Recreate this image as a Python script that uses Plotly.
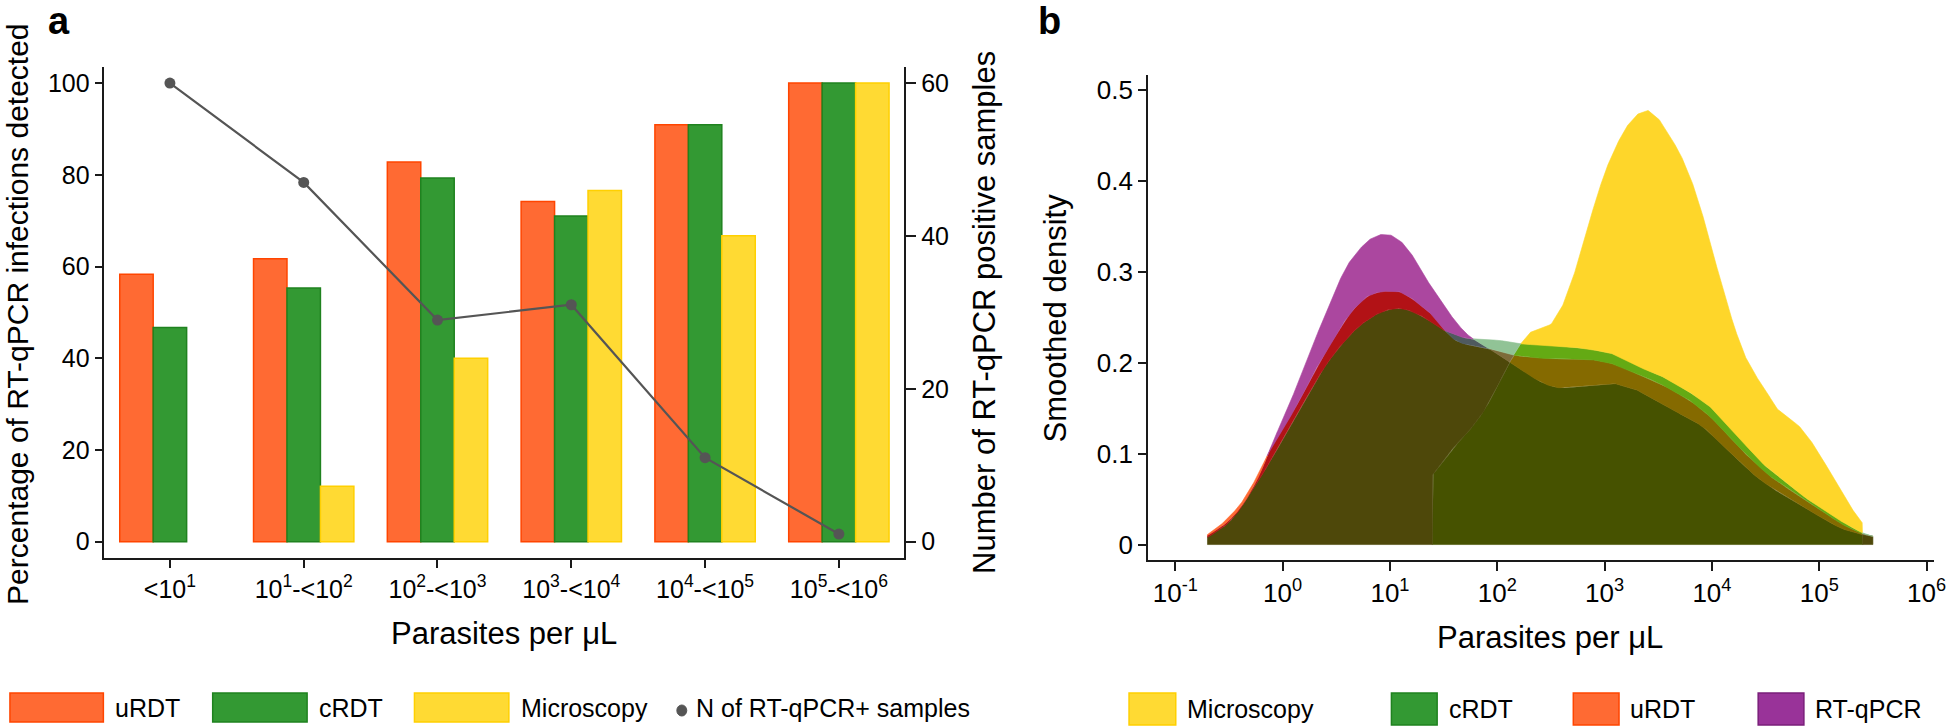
import itertools
import numpy as np
import plotly.graph_objects as go

W, H = 1960, 727

# ---------------- Panel a data ----------------
categories = ["<10^1", "10^1-<10^2", "10^2-<10^3", "10^3-<10^4", "10^4-<10^5", "10^5-<10^6"]
tick_labels = ["&lt;10<sup>1</sup>", "10<sup>1</sup>-&lt;10<sup>2</sup>", "10<sup>2</sup>-&lt;10<sup>3</sup>",
               "10<sup>3</sup>-&lt;10<sup>4</sup>", "10<sup>4</sup>-&lt;10<sup>5</sup>", "10<sup>5</sup>-&lt;10<sup>6</sup>"]
urdt_pct = [58.3, 61.7, 82.8, 74.2, 90.9, 100]
crdt_pct = [46.7, 55.3, 79.3, 71.0, 90.9, 100]
micro_pct = [0, 12.1, 40.0, 76.6, 66.7, 100]
n_samples = [60, 47, 29, 31, 11, 1]

# ---------------- Panel b data (log10 parasites/uL grid) ----------------
density_log_x = [-0.7, -0.6, -0.5, -0.4, -0.3, -0.2, -0.1, 0.0, 0.1, 0.2,
                 0.3, 0.4, 0.5, 0.6, 0.7, 0.8, 0.9, 1.0, 1.1, 1.2,
                 1.3, 1.4, 1.5, 1.6, 1.7, 1.8, 1.9, 2.0, 2.1, 2.2,
                 2.3, 2.4, 2.5, 2.6, 2.7, 2.8, 2.9, 3.0, 3.1, 3.2,
                 3.3, 3.4, 3.5, 3.6, 3.7, 3.8, 3.9, 4.0, 4.1, 4.2,
                 4.3, 4.4, 4.5, 4.6, 4.7, 4.8, 4.9, 5.0, 5.1, 5.2,
                 5.3, 5.4, 5.5]
rtqpcr_density = [0.010, 0.017, 0.026, 0.039, 0.057, 0.080, 0.111, 0.137, 0.165, 0.196,
                  0.225, 0.254, 0.283, 0.307, 0.323, 0.335, 0.341, 0.341, 0.334, 0.320,
                  0.299, 0.281, 0.263, 0.247, 0.233, 0.224, 0.217, 0.210, 0.202, 0.194,
                  0.186, 0.179, 0.174, 0.172, 0.173, 0.174, 0.175, 0.176, 0.177, 0.173,
                  0.170, 0.164, 0.157, 0.150, 0.144, 0.138, 0.131, 0.121, 0.109, 0.097,
                  0.087, 0.076, 0.067, 0.059, 0.052, 0.045, 0.038, 0.031, 0.024, 0.018,
                  0.014, 0.011, 0.009]
urdt_density = [0.011, 0.019, 0.030, 0.043, 0.061, 0.084, 0.108, 0.127, 0.146, 0.168,
                0.191, 0.212, 0.231, 0.250, 0.264, 0.274, 0.278, 0.279, 0.278, 0.271,
                0.262, 0.252, 0.237, 0.225, 0.220, 0.218, 0.216, 0.213, 0.210, 0.207,
                0.206, 0.205, 0.204, 0.204, 0.204, 0.204, 0.203, 0.201, 0.198, 0.193,
                0.188, 0.183, 0.178, 0.172, 0.165, 0.158, 0.149, 0.139, 0.126, 0.114,
                0.101, 0.090, 0.079, 0.070, 0.062, 0.054, 0.046, 0.039, 0.031, 0.023,
                0.017, 0.012, 0.009]
crdt_density = [0.008, 0.015, 0.024, 0.038, 0.056, 0.075, 0.094, 0.115, 0.136, 0.157,
                0.178, 0.197, 0.213, 0.227, 0.239, 0.248, 0.255, 0.259, 0.260, 0.257,
                0.251, 0.244, 0.236, 0.231, 0.227, 0.226, 0.225, 0.225, 0.223, 0.221,
                0.220, 0.220, 0.219, 0.218, 0.217, 0.216, 0.214, 0.212, 0.209, 0.203,
                0.197, 0.191, 0.187, 0.181, 0.174, 0.167, 0.159, 0.150, 0.137, 0.124,
                0.111, 0.098, 0.086, 0.077, 0.068, 0.058, 0.049, 0.042, 0.034, 0.026,
                0.019, 0.013, 0.009]
micro_density = [0, 0, 0, 0, 0, 0, 0, 0, 0, 0,
                 0, 0, 0, 0, 0, 0, 0, 0, 0, 0,
                 0, 0.077, 0.092, 0.108, 0.120, 0.134, 0.151, 0.174, 0.197, 0.218,
                 0.233, 0.238, 0.242, 0.260, 0.291, 0.330, 0.372, 0.409, 0.437, 0.459,
                 0.473, 0.478, 0.469, 0.451, 0.431, 0.404, 0.369, 0.323, 0.284, 0.242,
                 0.209, 0.187, 0.170, 0.150, 0.140, 0.132, 0.118, 0.100, 0.080, 0.059,
                 0.040, 0.024, 0]

# ---------------- styles ----------------
FONT = "Liberation Sans, Arial, Helvetica, sans-serif"
C_URDT, L_URDT = "#FF6A33", "#FF4500"
C_CRDT, L_CRDT = "#339933", "#1F821F"
C_MICRO, L_MICRO = "#FFDA33", "#FFD000"
C_RT, L_RT = "#993399", "#7A1F7A"
AX = "#1a1a1a"

# overlap colours of panel b keyed by the set of series covering a point
overlap_colors = {
    "R": "#AB479F", "U": "#FF6A33", "C": "#91C396", "M": "#FED62A",
    "RU": "#B21216", "CR": "#4F5A5F", "CU": "#7D6B3A", "CRU": "#4E480A",
    "CM": "#64AA14", "MU": "#C8640A", "MR": "#9A4A40",
    "CMU": "#856A00", "CMR": "#4A6A20", "MRU": "#7A3A05", "CMRU": "#465200",
}

fig = go.Figure()

# ---------------- Panel a ----------------
fig.add_trace(go.Bar(x=categories, y=urdt_pct, name="uRDT", marker=dict(color=C_URDT, line=dict(color=L_URDT, width=1.5)),
                     xaxis="x", yaxis="y"))
fig.add_trace(go.Bar(x=categories, y=crdt_pct, name="cRDT", marker=dict(color=C_CRDT, line=dict(color=L_CRDT, width=1.5)),
                     xaxis="x", yaxis="y"))
fig.add_trace(go.Bar(x=categories, y=micro_pct, name="Microscopy",
                     marker=dict(color=C_MICRO, line=dict(color=L_MICRO, width=[0 if v == 0 else 1.5 for v in micro_pct])),
                     xaxis="x", yaxis="y"))
fig.add_trace(go.Scatter(x=categories, y=n_samples, name="N of RT-qPCR+ samples", mode="lines+markers",
                         line=dict(color="#555555", width=2.2), marker=dict(color="#555555", size=11),
                         xaxis="x", yaxis="y2"))

# ---------------- Panel b : density areas (regions by overlap set) ----------------
# curves are straight segments between the read points; segments are subdivided so that
# the overlap regions tile without gaps. A series is drawn only between its first and
# last non-zero point (vertical edges at its ends).
L0 = np.array(density_log_x, float)
Lx = np.linspace(L0[0], L0[-1], (len(L0) - 1) * 20 + 1)

def resample(series):
    s = np.array(series, float)
    nz = np.nonzero(s)[0]
    a, b = L0[nz[0]], L0[nz[-1]]
    out = np.interp(Lx, L0[nz[0]:nz[-1] + 1], s[nz[0]:nz[-1] + 1])
    out[(Lx < a - 1e-9) | (Lx > b + 1e-9)] = 0.0
    return out

vals = {"M": resample(micro_density), "C": resample(crdt_density),
        "U": resample(urdt_density), "R": resample(rtqpcr_density)}
names = ["M", "C", "U", "R"]
n = len(Lx)
eps = 1e-9
for r in range(4, 0, -1):
    for S in itertools.combinations(names, r):
        up = np.min([vals[k] for k in S], axis=0)
        others = [vals[k] for k in names if k not in S]
        lo = np.max(others, axis=0) if others else np.zeros(n)
        lo = np.maximum(lo, 0)
        h = up - lo
        xs, ys = [], []
        i = 0
        while i < n:
            if h[i] <= eps:
                i += 1
                continue
            j = i
            while j + 1 < n and h[j + 1] > eps:
                j += 1
            top = []
            if i > 0:
                t = h[i] / (h[i] - h[i - 1])
                top.append((Lx[i] - t * (Lx[i] - Lx[i - 1]), lo[i] + t * (lo[i - 1] - lo[i])))
            top += [(Lx[k], up[k]) for k in range(i, j + 1)]
            if j < n - 1:
                t = h[j] / (h[j] - h[j + 1])
                top.append((Lx[j] + t * (Lx[j + 1] - Lx[j]), lo[j] + t * (lo[j + 1] - lo[j])))
            bot = [(Lx[k], lo[k]) for k in range(j, i - 1, -1)]
            poly = top + bot
            poly.append(poly[0])
            xs += [10 ** p[0] for p in poly] + [None]
            ys += [p[1] for p in poly] + [None]
            i = j + 1
        if not xs:
            continue
        key = "".join(sorted(S))
        col = overlap_colors[key]
        fig.add_trace(go.Scatter(x=xs, y=ys, mode="lines", fill="toself", fillcolor=col,
                                 line=dict(color=col, width=0.6), hoverinfo="skip",
                                 xaxis="x2", yaxis="y3", showlegend=False))

# ---------------- Layout ----------------
def px_x(p):
    return p / W

def px_y(p):
    return 1 - p / H

axis_common = dict(showline=True, linecolor=AX, linewidth=1.5, ticks="outside", tickcolor=AX, tickwidth=1.5,
                   showgrid=False, zeroline=False)

fig.update_layout(
    width=W, height=H, margin=dict(l=0, r=0, t=0, b=0),
    paper_bgcolor="white", plot_bgcolor="white", showlegend=False,
    barmode="group", bargap=0.25, bargroupgap=0,
    font=dict(family=FONT, size=25, color="#000"),
    xaxis=dict(domain=[px_x(105), px_x(910)], anchor="y", type="category", categoryorder="array",
               categoryarray=categories, range=[-0.49, 5.49], tickvals=categories, ticktext=tick_labels,
               ticklen=8, tickfont=dict(size=25), **axis_common),
    yaxis=dict(domain=[px_y(558), px_y(67)], anchor="x", range=[-3.55, 103.5], tickvals=[0, 20, 40, 60, 80, 100],
               ticklen=8, tickfont=dict(size=25), **axis_common),
    yaxis2=dict(overlaying="y", side="right", anchor="x", range=[-2.13, 62.1], tickvals=[0, 20, 40, 60],
                ticklen=10, tickfont=dict(size=25), **axis_common),
    xaxis2=dict(domain=[px_x(1155), px_x(1946)], anchor="y3", type="log", range=[-1.255, 6.07],
                tickvals=[0.1, 1, 10, 100, 1000, 1e4, 1e5, 1e6],
                ticktext=["10<sup>-1</sup>", "10<sup>0</sup>", "10<sup>1</sup>", "10<sup>2</sup>", "10<sup>3</sup>",
                          "10<sup>4</sup>", "10<sup>5</sup>", "10<sup>6</sup>"],
                ticklen=9, tickfont=dict(size=26), **axis_common),
    yaxis3=dict(domain=[px_y(560), px_y(75)], anchor="x2", range=[-0.017, 0.5165],
                tickvals=[0, 0.1, 0.2, 0.3, 0.4, 0.5], ticktext=["0", "0.1", "0.2", "0.3", "0.4", "0.5"],
                ticklen=8, tickfont=dict(size=26), **axis_common),
)

ann = []
def add_text(text, x, y, size=25, angle=0, xanchor="center", bold=False):
    ann.append(dict(text=("<b>%s</b>" % text) if bold else text, x=px_x(x), y=px_y(y), xref="paper", yref="paper",
                    showarrow=False, textangle=angle, xanchor=xanchor, yanchor="middle",
                    font=dict(family=FONT, size=size, color="#000")))

add_text("a", 59, 21, size=38, bold=True)
add_text("b", 1056, 21, size=38, bold=True)
add_text("Percentage of RT-qPCR infections detected", 17, 314, size=30, angle=-90)
add_text("Number of RT-qPCR positive samples", 990, 312, size=31, angle=-90)
add_text("Parasites per μL", 507, 633, size=31)
add_text("Smoothed density", 1062, 318, size=31, angle=-90)
add_text("Parasites per μL", 1560, 637, size=31)

shapes = []
def swatch(x0, x1, y0, y1, fill, line):
    shapes.append(dict(type="rect", xref="paper", yref="paper", x0=px_x(x0), x1=px_x(x1), y0=px_y(y1), y1=px_y(y0),
                       fillcolor=fill, line=dict(color=line, width=1.5)))

# legend a
swatch(10, 104, 693, 722, C_URDT, L_URDT); add_text("uRDT", 114, 708, xanchor="left")
swatch(214, 309, 693, 722, C_CRDT, L_CRDT); add_text("cRDT", 319, 708, xanchor="left")
swatch(417, 512, 693, 722, C_MICRO, L_MICRO); add_text("Microscopy", 522, 708, xanchor="left")
shapes.append(dict(type="circle", xref="paper", yref="paper", x0=px_x(681), x1=px_x(691), y0=px_y(716), y1=px_y(705),
                   fillcolor="#555555", line=dict(color="#555555", width=1)))
add_text("N of RT-qPCR+ samples", 698, 708, xanchor="left")

# legend b
swatch(1136, 1183, 693, 725, C_MICRO, L_MICRO); add_text("Microscopy", 1192, 709, xanchor="left")
swatch(1400, 1446, 693, 725, C_CRDT, L_CRDT); add_text("cRDT", 1456, 709, xanchor="left")
swatch(1583, 1629, 693, 725, C_URDT, L_URDT); add_text("uRDT", 1638, 709, xanchor="left")
swatch(1769, 1815, 693, 725, C_RT, L_RT); add_text("RT-qPCR", 1824, 709, xanchor="left")

fig.update_layout(annotations=ann, shapes=shapes)
fig.write_html("out.html", config={"displayModeBar": False},
               post_script="document.body.style.margin='0px';document.body.style.overflow='hidden';")
